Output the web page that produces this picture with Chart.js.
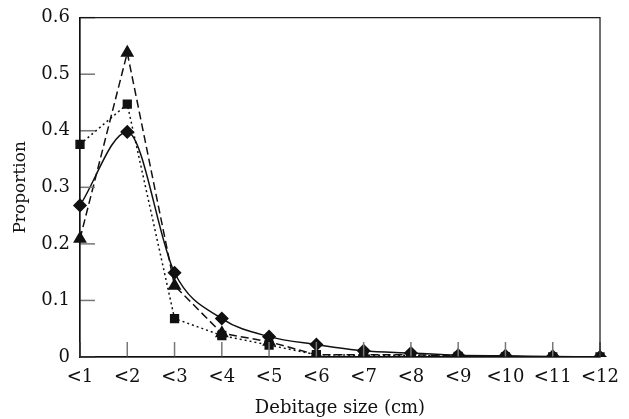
<!DOCTYPE html>
<html>
<head>
<meta charset="utf-8">
<script src="https://cdn.jsdelivr.net/npm/chart.js@4.4.1/dist/chart.umd.min.js"></script>
<style>
  html, body { margin: 0; padding: 0; background: #fff; }
  #wrap { width: 629px; height: 419px; }
</style>
</head>
<body>
<div id="wrap"><canvas id="chart" width="629" height="419"></canvas></div>
<script>
// Data
const categories = ['<1', '<2', '<3', '<4', '<5', '<6', '<7', '<8', '<9', '<10', '<11', '<12'];
const diamondSeries = [0.268, 0.398, 0.149, 0.068, 0.036, 0.022, 0.011, 0.007, 0.003, 0.002, 0.001, 0];
const squareSeries = [0.376, 0.447, 0.068, 0.038, 0.021, 0.004, 0.003, 0.003, 0.001, 0, 0, 0];
const triangleSeries = [0.209, 0.538, 0.126, 0.042, 0.027, 0.004, 0.004, 0.004, 0.002, 0.001, 0, 0];
const yTicks = [0, 0.1, 0.2, 0.3, 0.4, 0.5, 0.6];

const serif = "'DejaVu Serif', 'Liberation Serif', serif";

// inward tick marks + box border
const frame = {
    id: 'frame',
    afterDatasetsDraw(chart) {
        const ctx = chart.ctx;
        const a = chart.chartArea;
        const xs = chart.scales.x;
        const ys = chart.scales.y;
        ctx.save();
        ctx.strokeStyle = '#777';
        ctx.lineWidth = 1.5;
        yTicks.forEach(v => {
            const y = ys.getPixelForValue(v);
            ctx.beginPath();
            ctx.moveTo(a.left, y);
            ctx.lineTo(a.left + 15, y);
            ctx.stroke();
        });
        categories.forEach((c, i) => {
            const x = xs.getPixelForValue(i);
            ctx.beginPath();
            ctx.moveTo(x, a.bottom);
            ctx.lineTo(x, a.bottom - 15);
            ctx.stroke();
        });
        ctx.strokeStyle = '#111';
        ctx.lineWidth = 1.2;
        ctx.strokeRect(a.left, a.top, a.right - a.left, a.bottom - a.top);
        ctx.restore();
    }
};

new Chart(document.getElementById('chart'), {
    type: 'line',
    data: {
        labels: categories,
        datasets: [{
            label: 'Diamond',
            data: diamondSeries,
            borderColor: '#111',
            backgroundColor: '#111',
            borderWidth: 1.5,
            pointStyle: 'rectRot',
            pointRadius: 6,
            cubicInterpolationMode: 'monotone'
        }, {
            label: 'Square',
            data: squareSeries,
            borderColor: '#111',
            backgroundColor: '#111',
            borderWidth: 1.5,
            borderDash: [2, 3],
            pointStyle: 'rect',
            pointRadius: 5.5
        }, {
            label: 'Triangle',
            data: triangleSeries,
            borderColor: '#111',
            backgroundColor: '#111',
            borderWidth: 1.5,
            borderDash: [8, 4],
            pointStyle: 'triangle',
            pointRadius: 6.5
        }]
    },
    options: {
        responsive: false,
        animation: false,
        layout: { padding: { left: 0, right: 28, top: 0, bottom: 0 } },
        plugins: {
            legend: { display: false },
            tooltip: { enabled: false }
        },
        scales: {
            x: {
                offset: false,
                grid: { display: false, drawTicks: false },
                border: { display: true, color: '#111', width: 1.2 },
                ticks: {
                    autoSkip: false,
                    maxRotation: 0,
                    padding: 10,
                    color: '#111',
                    font: { family: serif, size: 18 }
                },
                title: {
                    display: true,
                    text: 'Debitage size (cm)',
                    color: '#111',
                    padding: { top: 2, bottom: 0 },
                    font: { family: serif, size: 18 }
                },
                afterFit(scale) { scale.height = 62; }
            },
            y: {
                min: 0,
                max: 0.6,
                grid: { display: false, drawTicks: false },
                border: { display: true, color: '#111', width: 1.2 },
                afterBuildTicks(scale) { scale.ticks = yTicks.map(v => ({ value: v })); },
                ticks: {
                    padding: 10,
                    color: '#111',
                    font: { family: serif, size: 18, lineHeight: 0.85 },
                    callback: v => v === 0 ? '0' : v.toFixed(1)
                },
                title: {
                    display: true,
                    text: 'Proportion',
                    color: '#111',
                    padding: { top: 10, bottom: 0 },
                    font: { family: serif, size: 17 }
                },
                afterFit(scale) { scale.width = 80; }
            }
        }
    },
    plugins: [frame]
});
</script>
</body>
</html>
